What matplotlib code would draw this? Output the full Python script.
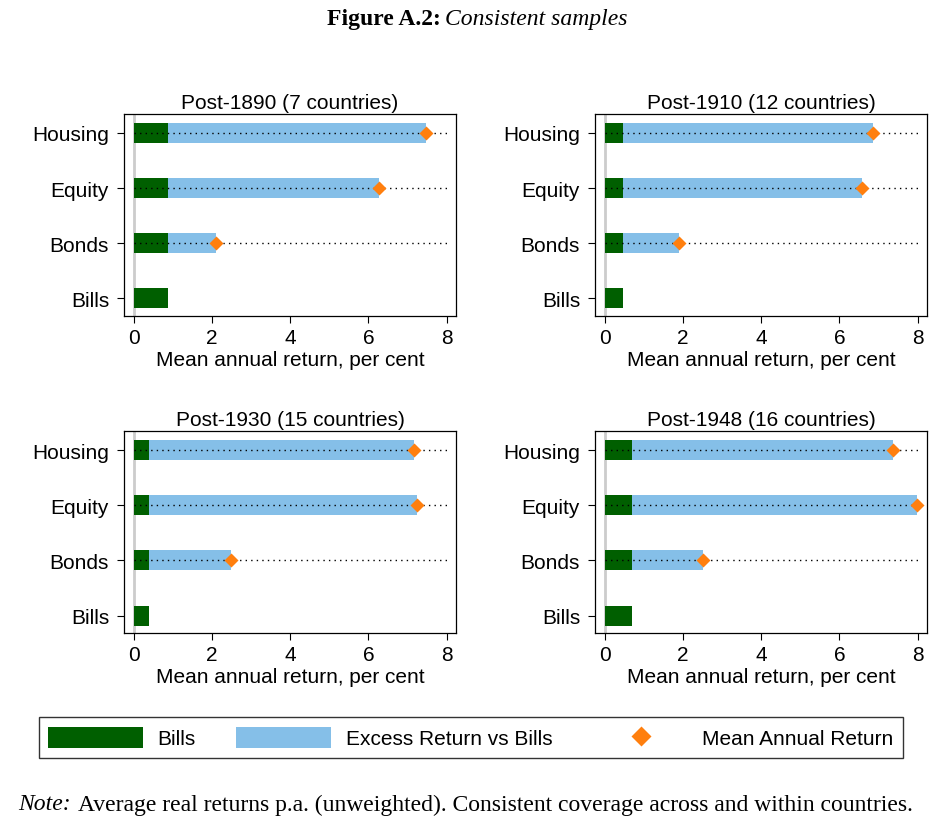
import numpy as np
import matplotlib.pyplot as plt
from matplotlib.patches import Patch
from matplotlib.lines import Line2D

# Data (mean annual real return, per cent)
categories = ['Bills', 'Bonds', 'Equity', 'Housing']
panel_titles = ['Post-1890 (7 countries)', 'Post-1910 (12 countries)',
                'Post-1930 (15 countries)', 'Post-1948 (16 countries)']
bills = [0.88, 0.48, 0.39, 0.71]
bonds = [2.10, 1.91, 2.48, 2.52]
equity = [6.26, 6.58, 7.24, 7.97]
housing = [7.47, 6.86, 7.16, 7.37]

green = '#005f00'
blue = '#85bfe8'
orange = '#ff7f0e'

plt.rcParams['font.family'] = ['Liberation Sans', 'DejaVu Sans']

fig = plt.figure(figsize=(9.39, 8.28), dpi=100)

# axes positions in figure fraction [left, bottom, width, height]
positions = [
    [124.3 / 939, 1 - 317 / 828, 331.4 / 939, 202.3 / 828],
    [595.3 / 939, 1 - 317 / 828, 331.4 / 939, 202.3 / 828],
    [124.3 / 939, 1 - 634.3 / 828, 331.4 / 939, 202.6 / 828],
    [595.3 / 939, 1 - 634.3 / 828, 331.4 / 939, 202.6 / 828],
]

ypos = np.arange(len(categories))
for i in range(4):
    ax = fig.add_axes(positions[i])
    totals = np.array([bills[i], bonds[i], equity[i], housing[i]])
    base = np.full(len(categories), bills[i])
    # light grey zero line
    ax.axvline(0, color='#cccccc', lw=2, zorder=1)
    ax.barh(ypos, base, height=0.36, color=green, zorder=2)
    ax.barh(ypos, totals - base, left=base, height=0.36, color=blue, zorder=2)
    # dotted guide lines and diamonds for non-bill assets
    ax.hlines(ypos[1:], 0, 8.04, colors='black', linestyles=(0, (1, 3)),
              lw=1, zorder=3)
    ax.plot(totals[1:], ypos[1:], 'D', color=orange, ms=7, mec='none', zorder=4)
    ax.set_xlim(-0.24, 8.23)
    ax.set_ylim(-0.32, 3.35)
    ax.set_xticks([0, 2, 4, 6, 8])
    ax.set_yticks(ypos)
    ax.set_yticklabels(categories)
    ax.tick_params(labelsize=15, length=5, width=0.8)
    ax.tick_params(axis='y', pad=6)
    ax.set_xlabel('Mean annual return, per cent', fontsize=15, labelpad=2)
    ax.set_title(panel_titles[i], fontsize=15, pad=4)
    for sp in ax.spines.values():
        sp.set_linewidth(0.9)

handles = [
    Patch(facecolor=green, edgecolor='none', label='Bills'),
    Patch(facecolor=blue, edgecolor='none', label='Excess Return vs Bills'),
    Line2D([], [], marker='D', color=orange, ls='none', ms=10, mec='none',
           label='Mean Annual Return'),
]
leg = fig.legend(handles=handles, loc='center', bbox_to_anchor=(471 / 939, 1 - 738.5 / 828),
                 ncol=3, fontsize=15, frameon=True, fancybox=False,
                 handlelength=4.55, handleheight=1.2, handletextpad=0.7,
                 columnspacing=1.95, borderpad=0.45)
leg.get_frame().set_edgecolor('black')
leg.get_frame().set_linewidth(1.0)

# figure caption
fig.text(441 / 939, 1 - 20 / 828, 'Figure A.2:', ha='right', va='center',
         fontsize=17, fontweight='bold', family='Liberation Serif')
fig.text(445 / 939, 1 - 20 / 828, 'Consistent samples', ha='left', va='center',
         fontsize=17, style='italic', family='Liberation Serif')

# note
fig.text(18 / 939, 1 - 805 / 828, 'Note:', ha='left', va='center',
         fontsize=17, style='italic', family='Liberation Serif')
fig.text(78 / 939, 1 - 805 / 828,
         'Average real returns p.a. (unweighted). Consistent coverage across and within countries.',
         ha='left', va='center', fontsize=17, family='Liberation Serif')

fig.savefig('out.png', dpi=100)
